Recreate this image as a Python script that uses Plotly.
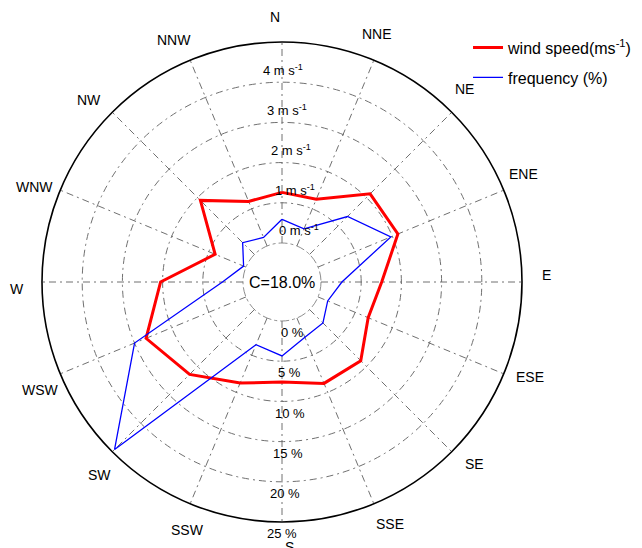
import math
import plotly.graph_objects as go

# ---- data ----
directions = ["N", "NNE", "NE", "ENE", "E", "ESE", "SE", "SSE",
              "S", "SSW", "SW", "WSW", "W", "WNW", "NW", "NNW"]
wind_speed = [1.26, 1.26, 2.13, 2.15, 1.51, 1.35, 1.80, 1.76,
              1.52, 1.75, 2.28, 2.69, 2.05, 0.83, 1.90, 1.20]      # m/s
frequency = [2.95, 2.3, 6.67, 9.8, 2.6, 1.3, 2.35, 2.6,
             4.35, 3.6, 24.6, 15.0, 2.56, 0.32, 2.07, 1.15]        # %
calm_text = "C=18.0%"
speed_ticks = [0, 1, 2, 3, 4]
freq_ticks = [0, 5, 10, 15, 20, 25]

# ---- layout constants ----
W, H = 642, 548
CX, CY, R_OUT = 282, 282, 240
HOLE = 39 / 240
FONT = "Liberation Sans, Arial, sans-serif"
GRID = "#707070"
DASH = "7px,4px,2px,4px"

angles = [i * 22.5 for i in range(len(directions))]
theta_closed = angles + [angles[0]]
speed_closed = wind_speed + [wind_speed[0]]
freq_r = [f / 5.0 for f in frequency]          # 5 % per ring -> same rings as 1 m/s
freq_closed = freq_r + [freq_r[0]]

fig = go.Figure()
fig.add_trace(go.Scatterpolar(
    r=speed_closed, theta=theta_closed, mode="lines",
    line=dict(color="#FF0000", width=3),
    name="wind speed(ms<sup>-1</sup>)", legendgroup="a"))
fig.add_trace(go.Scatterpolar(
    r=freq_closed, theta=theta_closed, mode="lines",
    line=dict(color="#0000FF", width=1.3),
    name="frequency (%)", legendgroup="b"))

x0 = (CX - R_OUT) / W
x1 = (CX + R_OUT) / W
y0 = (H - (CY + R_OUT)) / H
y1 = (H - (CY - R_OUT)) / H
R_IN = HOLE * R_OUT

fig.update_layout(
    width=W, height=H,
    margin=dict(l=0, r=0, t=0, b=0),
    paper_bgcolor="white", plot_bgcolor="white",
    font=dict(family=FONT, size=13, color="black"),
    polar=dict(
        domain=dict(x=[x0, x1], y=[y0, y1]),
        hole=HOLE,
        bgcolor="white",
        radialaxis=dict(range=[0, 5], tickvals=[0, 1, 2, 3, 4, 5],
                        showticklabels=False, ticks="", showline=False,
                        gridcolor=GRID, griddash=DASH, gridwidth=0.8),
        angularaxis=dict(direction="clockwise", rotation=90,
                         tickvals=angles, showticklabels=False, ticks="",
                         showline=False,
                         gridcolor=GRID, griddash=DASH, gridwidth=0.8),
    ),
    legend=dict(x=0.729, y=0.944, xanchor="left", yanchor="top",
                font=dict(family=FONT, size=16), tracegroupgap=6,
                bgcolor="rgba(0,0,0,0)"),
    showlegend=True,
    shapes=[
        dict(type="circle", xref="paper", yref="paper",
             x0=x0, x1=x1, y0=y0, y1=y1,
             line=dict(color="black", width=1.6)),
        dict(type="circle", xref="paper", yref="paper",
             x0=(CX - R_IN) / W, x1=(CX + R_IN) / W,
             y0=(H - (CY + R_IN)) / H, y1=(H - (CY - R_IN)) / H,
             line=dict(color=GRID, width=0.8, dash="dashdot")),
    ],
)


def paper(r_px, ang_deg):
    a = math.radians(ang_deg)
    px = CX + r_px * math.sin(a)
    py = CY - r_px * math.cos(a)
    return px / W, (H - py) / H


ann = []
for name, ang in zip(directions, angles):
    x, y = paper(265, ang - 1.6)
    ann.append(dict(x=x, y=y, xref="paper", yref="paper", text=name,
                    showarrow=False, xanchor="center", yanchor="middle",
                    font=dict(size=14)))

ring_px = lambda k: R_IN + k * (R_OUT - R_IN) / 5
for k, v in enumerate(speed_ticks):
    x, y = paper(ring_px(k) + 13, -5.6)
    ann.append(dict(x=x, y=y, xref="paper", yref="paper",
                    text=f"{v} m s<sup>-1</sup>", showarrow=False,
                    xanchor="left", yanchor="middle", font=dict(size=13)))
for k, v in enumerate(freq_ticks):
    x, y = paper(ring_px(k) + 12, 183.8)
    ann.append(dict(x=x, y=y, xref="paper", yref="paper",
                    text=f"{v} %", showarrow=False,
                    xanchor="left", yanchor="middle", font=dict(size=13)))

ann.append(dict(x=CX / W, y=(H - CY) / H, xref="paper", yref="paper",
                text=calm_text, showarrow=False, font=dict(size=16)))
fig.update_layout(annotations=ann)

fig.write_html("out.html",
               config={"displayModeBar": False},
               post_script="document.body.style.margin='0';"
                           "document.body.style.overflow='hidden';")
